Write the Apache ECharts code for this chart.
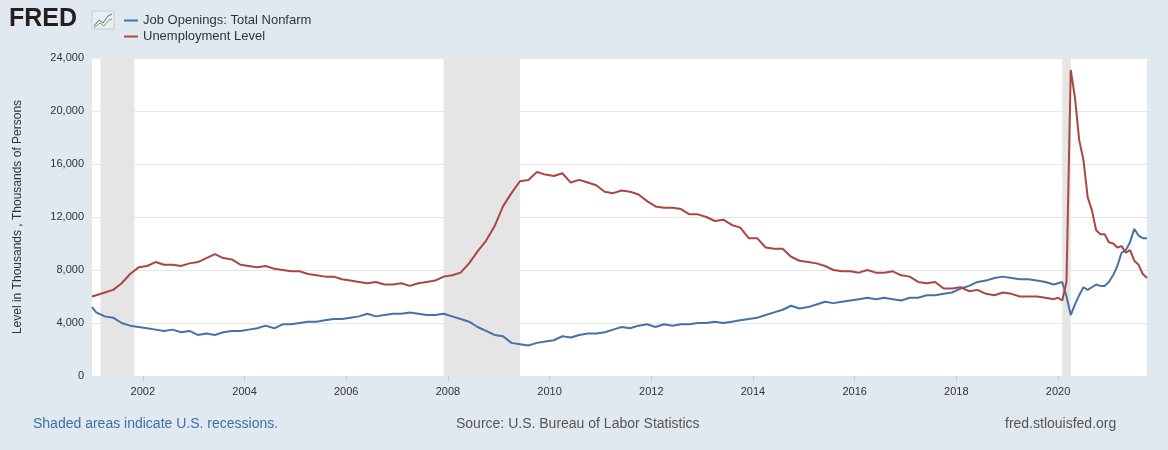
<!DOCTYPE html><html><head><meta charset="utf-8">
<script src="https://cdn.jsdelivr.net/npm/echarts@6/dist/echarts.min.js"></script>
<style>html,body{margin:0;background:#e1e9f0}#c{width:1168px;height:450px}</style></head><body><div id="c"></div>
<script>
const dates=["2001-01","2001-02","2001-04","2001-06","2001-08","2001-10","2001-12","2002-02","2002-04","2002-06","2002-08","2002-10","2002-12","2003-02","2003-04","2003-06","2003-08","2003-10","2003-12","2004-02","2004-04","2004-06","2004-08","2004-10","2004-12","2005-02","2005-04","2005-06","2005-08","2005-10","2005-12","2006-02","2006-04","2006-06","2006-08","2006-10","2006-12","2007-02","2007-04","2007-06","2007-08","2007-10","2007-12","2008-02","2008-04","2008-06","2008-08","2008-10","2008-12","2009-02","2009-04","2009-06","2009-08","2009-10","2009-12","2010-02","2010-04","2010-06","2010-08","2010-10","2010-12","2011-02","2011-04","2011-06","2011-08","2011-10","2011-12","2012-02","2012-04","2012-06","2012-08","2012-10","2012-12","2013-02","2013-04","2013-06","2013-08","2013-10","2013-12","2014-02","2014-04","2014-06","2014-08","2014-10","2014-12","2015-02","2015-04","2015-06","2015-08","2015-10","2015-12","2016-02","2016-04","2016-06","2016-08","2016-10","2016-12","2017-02","2017-04","2017-06","2017-08","2017-10","2017-12","2018-02","2018-04","2018-06","2018-08","2018-10","2018-12","2019-02","2019-04","2019-06","2019-08","2019-10","2019-12","2020-01","2020-02","2020-03","2020-04","2020-05","2020-06","2020-07","2020-08","2020-09","2020-10","2020-11","2020-12","2021-01","2021-02","2021-03","2021-04","2021-05","2021-06","2021-07","2021-08","2021-09","2021-10"];
const unemployment=[6000,6100,6300,6500,7000,7700,8200,8300,8600,8400,8400,8300,8500,8600,8900,9200,8900,8800,8400,8300,8200,8300,8100,8000,7900,7900,7700,7600,7500,7500,7300,7200,7100,7000,7100,6900,6900,7000,6800,7000,7100,7200,7500,7600,7800,8500,9400,10200,11300,12800,13800,14700,14800,15400,15200,15100,15300,14600,14800,14600,14400,13900,13800,14000,13900,13700,13200,12800,12700,12700,12600,12200,12200,12000,11700,11800,11400,11200,10400,10400,9700,9600,9600,9000,8700,8600,8500,8300,8000,7900,7900,7800,8000,7800,7800,7900,7600,7500,7100,7000,7100,6600,6600,6700,6400,6500,6200,6100,6300,6200,6000,6000,6000,5900,5800,5900,5700,7100,23100,21000,17800,16300,13500,12500,11000,10700,10700,10100,10000,9700,9800,9300,9500,8700,8400,7700,7400];
const jobOpenings=[5200,4800,4500,4400,4000,3800,3700,3600,3500,3400,3500,3300,3400,3100,3200,3100,3300,3400,3400,3500,3600,3800,3600,3900,3900,4000,4100,4100,4200,4300,4300,4400,4500,4700,4500,4600,4700,4700,4800,4700,4600,4600,4700,4500,4300,4100,3700,3400,3100,3000,2500,2400,2300,2500,2600,2700,3000,2900,3100,3200,3200,3300,3500,3700,3600,3800,3900,3700,3900,3800,3900,3900,4000,4000,4100,4000,4100,4200,4300,4400,4600,4800,5000,5300,5100,5200,5400,5600,5500,5600,5700,5800,5900,5800,5900,5800,5700,5900,5900,6100,6100,6200,6300,6600,6800,7100,7200,7400,7500,7400,7300,7300,7200,7100,6900,7000,7100,6000,4600,5400,6100,6700,6500,6700,6900,6800,6800,7100,7600,8300,9300,9500,10100,11100,10600,10400,10400];
const recessions=[["2001-03","2001-11"],["2007-12","2009-06"],["2020-02","2020-04"]];
const yearTicks=[2002,2004,2006,2008,2010,2012,2014,2016,2018,2020];
const dec=s=>{const [y,m]=s.split('-').map(Number);return y+(m-1)/12;};
const ch=echarts.init(document.getElementById('c'));
const F='Arial, Liberation Sans, sans-serif';
ch.setOption({
 animation:false,
 grid:{left:92,right:21,top:58,bottom:74,backgroundColor:'#fff',show:true,borderWidth:0},
 legend:{orient:'vertical',left:119,top:9,itemGap:3,itemWidth:14,itemHeight:2,icon:'rect',textStyle:{fontFamily:F,fontSize:13,color:'#333'},data:['Job Openings: Total Nonfarm','Unemployment Level']},
 xAxis:{type:'value',min:dec('2001-01'),max:dec('2021-10'),splitLine:{show:false},axisLine:{show:false},
  axisTick:{show:true,customValues:yearTicks,length:5,lineStyle:{color:'#ccc'}},
  axisLabel:{customValues:yearTicks,formatter:v=>String(Math.round(v)),color:'#333',fontFamily:F,fontSize:11,margin:10}},
 yAxis:{type:'value',min:0,max:24000,interval:4000,axisLine:{show:false},axisTick:{show:false},
  splitLine:{lineStyle:{color:'#e6e6e6'}},
  axisLabel:{formatter:v=>v.toLocaleString('en-US'),color:'#333',fontFamily:F,fontSize:11},
  name:'Level in Thousands , Thousands of Persons',nameLocation:'middle',nameGap:68,nameTextStyle:{color:'#333',fontFamily:F,fontSize:12}},
 graphic:[
  {type:'text',left:9,top:7,style:{text:'FRED',font:'900 25px Arial, Liberation Sans',fill:'#231f20'}},
  {type:'rect',shape:{x:92,y:11,width:22,height:18},style:{fill:'#e8eef2',stroke:'#ccc'}},
  {type:'polyline',shape:{points:[[94,26],[99,20],[103,23],[108,16],[112,14]]},style:{stroke:'#4572a7',fill:null,lineWidth:1}},
  {type:'polyline',shape:{points:[[94,28],[100,23],[104,26],[109,20],[112,19]]},style:{stroke:'#89a54e',fill:null,lineWidth:1}},
  {type:'text',left:33,top:417,style:{text:'Shaded areas indicate U.S. recessions.',font:'14px Arial, Liberation Sans',fill:'#3d6fa8'}},
  {type:'text',left:456,top:417,style:{text:'Source: U.S. Bureau of Labor Statistics',font:'14px Arial, Liberation Sans',fill:'#555'}},
  {type:'text',left:1005,top:417,style:{text:'fred.stlouisfed.org',font:'14px Arial, Liberation Sans',fill:'#555'}}
 ],
 series:[
  {name:'Job Openings: Total Nonfarm',type:'line',showSymbol:false,color:'#4572a7',lineStyle:{width:2},data:dates.map((d,i)=>[dec(d),jobOpenings[i]]),
   markArea:{silent:true,itemStyle:{color:'#e5e5e5'},data:recessions.map(r=>[{xAxis:dec(r[0])},{xAxis:dec(r[1])}])},z:3},
  {name:'Unemployment Level',type:'line',showSymbol:false,color:'#aa4643',lineStyle:{width:2},data:dates.map((d,i)=>[dec(d),unemployment[i]]),z:3}
 ]
});
</script></body></html>
